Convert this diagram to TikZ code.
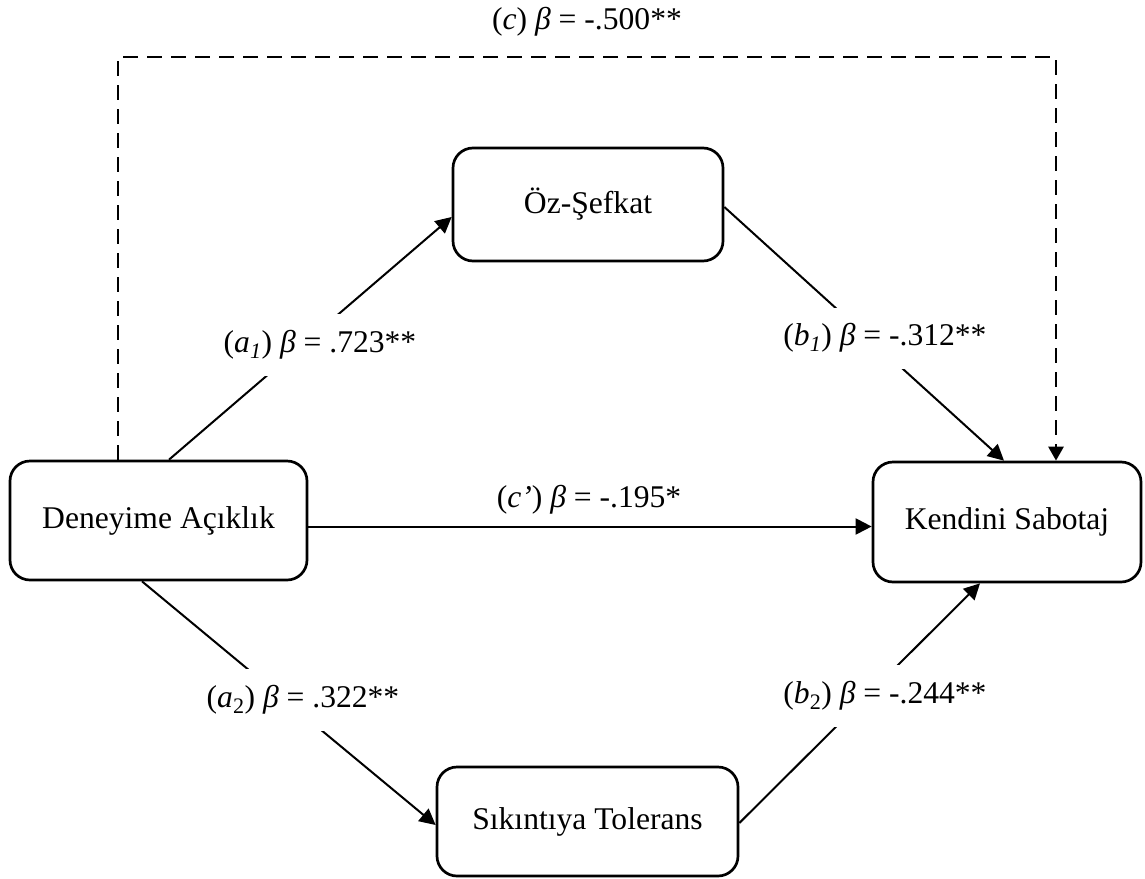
\documentclass[tikz,border=0pt]{standalone}
\usepackage{fontspec}
\setmainfont{Liberation Serif}
\usetikzlibrary{arrows.meta,calc}
\begin{document}
\begin{tikzpicture}[x=1pt,y=-1pt,
  every node/.style={font=\fontsize{31.6}{38}\selectfont},
  box/.style={draw, line width=2.7pt, rounded corners=20pt, inner sep=0pt, align=center},
  lab/.style={inner sep=0pt},
  gaplab/.style={fill=white, inner xsep=2pt, inner ysep=0pt},
  conn/.style={line width=2pt, -{Triangle[length=16pt,width=16pt]}},
  dconn/.style={line width=2.7pt, dash pattern=on 15pt off 9pt, -{Triangle[length=14pt,width=15pt]}}]
\useasboundingbox (0,0) rectangle (1145,878);
\node[box, minimum width=297pt, minimum height=119pt] (D) at (158.5,520.5) {Deneyime Açıklık};
\node[box, minimum width=268pt, minimum height=120pt] (K) at (1007,522) {Kendini Sabotaj};
\node[box, minimum width=270pt, minimum height=113pt] (O) at (588,204.5) {Öz-Şefkat};
\node[box, minimum width=301pt, minimum height=109pt] (S) at (587.5,821.5) {Sıkıntıya Tolerans};
% connectors
\draw[conn] ([xshift=10.5pt]D.north) -- ([yshift=-12.5pt]O.west);
\draw[conn] ([yshift=-2.5pt]O.east) -- ([xshift=-3pt]K.north);
\draw[conn] ([xshift=-16.5pt]D.south) -- ([yshift=-3.5pt]S.west);
\draw[conn] ([yshift=-1.5pt]S.east) -- ([xshift=-27pt]K.south);
\coordinate (cl) at ([yshift=-6pt]D.east);
\draw[conn] (cl) -- (cl -| K.west);
\coordinate (ctop) at (587,57);
\draw[dconn] ([xshift=-40.5pt]D.north) |- (ctop) -| ([xshift=49pt]K.north);
% labels
\node[gaplab, minimum height=62pt] (la1) at (320,345) {(\textit{a}\textsubscript{\textit{1}}) \textit{β} = .723**};
\node[gaplab, minimum height=61pt] (lb1) at (885,338) {(\textit{b}\textsubscript{\textit{1}}) \textit{β} = -.312**};
\node[gaplab, minimum height=62pt] (la2) at (303,700) {(\textit{a}\textsubscript{2}) \textit{β} = .322**};
\node[gaplab, minimum height=62pt] (lb2) at (885,696) {(\textit{b}\textsubscript{2}) \textit{β} = -.244**};
\node[lab] (lcp) at (589,500) {(\textit{c’}) \textit{β} = -.195*};
\node[lab] (lc) at (587,22) {(\textit{c}) \textit{β} = -.500**};
\end{tikzpicture}
\end{document}
